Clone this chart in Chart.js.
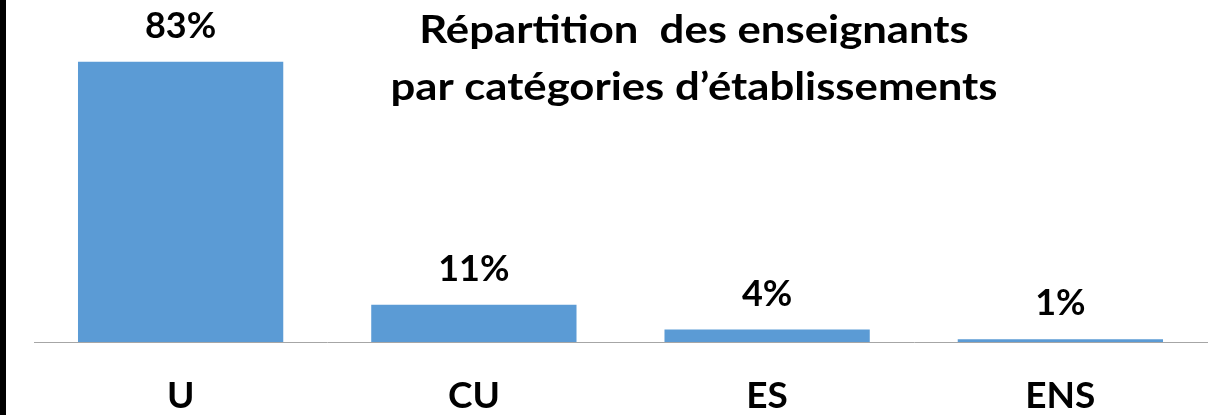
<!DOCTYPE html>
<html>
<head>
<meta charset="utf-8">
<script src="https://cdn.jsdelivr.net/npm/chart.js@4/dist/chart.umd.min.js"></script>
<style>
    html, body { margin: 0; padding: 0; background: #ffffff; }
    #wrap { position: relative; width: 1217px; height: 415px; }
    #edge { position: absolute; left: 0; top: 0; width: 6px; height: 415px; background: #000000; }
    canvas { position: absolute; left: 0; top: 0; }
</style>
</head>
<body>
<div id="wrap">
    <canvas id="barChart" width="1217" height="415"></canvas>
    <div id="edge"></div>
</div>
<script>
// --- Data ---
const categories = ['U', 'CU', 'ES', 'ENS'];
const shares = [83.4, 11.1, 3.7, 0.8];
const titleLines = ['Répartition  des enseignants', 'par catégories d\u2019établissements'];

const FONT = 'Lato, Carlito, Calibri, sans-serif';

// Value labels above each bar
const valueLabels = {
    id: 'valueLabels',
    afterDatasetsDraw(chart) {
        const ctx = chart.ctx;
        const meta = chart.getDatasetMeta(0);
        ctx.save();
        ctx.font = 'bold 36px ' + FONT;
        ctx.fillStyle = '#000000';
        ctx.textAlign = 'center';
        ctx.textBaseline = 'alphabetic';
        meta.data.forEach((bar, i) => {
            ctx.fillText(Math.round(shares[i]) + '%', bar.x, bar.y - 24);
        });
        ctx.restore();
    }
};

// Title drawn over the plot, like the original (slightly widened, Calibri is wider than Lato)
const overlayTitle = {
    id: 'overlayTitle',
    afterDraw(chart) {
        const ctx = chart.ctx;
        const cx = 694;
        const sx = 1.12;
        ctx.save();
        ctx.translate(cx, 0);
        ctx.scale(sx, 1);
        ctx.font = 'bold 39px ' + FONT;
        ctx.fillStyle = '#000000';
        ctx.textAlign = 'center';
        ctx.textBaseline = 'alphabetic';
        ctx.fillText(titleLines[0], 0, 43);
        ctx.fillText(titleLines[1], 0, 100);
        ctx.restore();
    }
};

const ctx = document.getElementById('barChart').getContext('2d');

new Chart(ctx, {
    type: 'bar',
    data: {
        labels: categories,
        datasets: [{
            data: shares,
            backgroundColor: '#5B9BD5',
            borderWidth: 0,
            barPercentage: 0.7,
            categoryPercentage: 1.0
        }]
    },
    options: {
        responsive: false,
        animation: false,
        devicePixelRatio: 1,
        layout: {
            padding: { left: 34, right: 10, top: 6, bottom: 0 }
        },
        plugins: {
            legend: { display: false },
            title: { display: false },
            tooltip: { enabled: false }
        },
        scales: {
            y: {
                display: false,
                min: 0,
                max: 100
            },
            x: {
                afterFit(scale) {
                    scale.height = 73;
                },
                grid: {
                    display: false,
                    drawTicks: false
                },
                border: {
                    display: true,
                    color: '#A6A6A6',
                    width: 1
                },
                ticks: {
                    color: '#000000',
                    padding: 32,
                    font: {
                        family: FONT,
                        size: 37,
                        weight: 'bold'
                    }
                }
            }
        }
    },
    plugins: [valueLabels, overlayTitle]
});
</script>
</body>
</html>
